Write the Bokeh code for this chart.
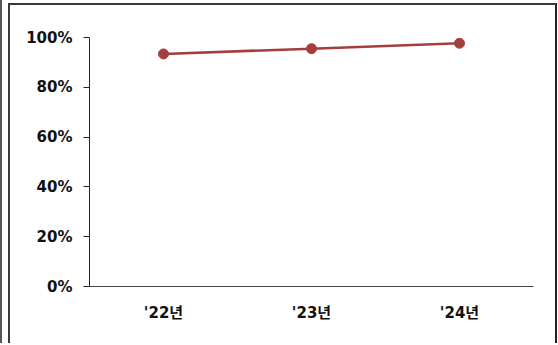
from bokeh.plotting import figure
from bokeh.models import FactorRange, Range1d, FixedTicker, CustomJSTickFormatter
from bokeh.layouts import column
from bokeh.embed import file_html
from bokeh.resources import INLINE

# Data
years = ["'22년", "'23년", "'24년"]
rates = [93.4, 95.5, 97.7]          # percent
y_ticks = [0, 20, 40, 60, 80, 100]

RED = "#a33f3e"
FONT = "DejaVu Sans, Noto Sans CJK KR"

p = figure(
    width=549, height=340,
    x_range=FactorRange(*years, range_padding=0),
    y_range=Range1d(0, 100),
    output_backend="svg", toolbar_location=None,
    min_border_left=79, min_border_right=26,
    min_border_top=32, min_border_bottom=59,
)

p.line(x=years, y=rates, line_color=RED, line_width=2.6)
p.scatter(x=years, y=rates, size=10, fill_color=RED, line_color=RED)

p.grid.visible = False
p.outline_line_color = None
p.background_fill_color = "white"
p.border_fill_color = "white"

# y axis
ya = p.yaxis[0]
ya.ticker = FixedTicker(ticks=y_ticks, minor_ticks=[])
ya.formatter = CustomJSTickFormatter(code="return tick + '%';")
ya.axis_line_color = "#222222"
ya.axis_line_width = 1
ya.major_tick_out = 6
ya.major_tick_in = 0
ya.minor_tick_line_color = None
ya.major_tick_line_color = "#222222"
ya.major_label_text_font = FONT
ya.major_label_text_font_style = "bold"
ya.major_label_text_font_size = "15px"
ya.major_label_text_color = "#111111"
ya.major_label_standoff = 11

# x axis
xa = p.xaxis[0]
xa.axis_line_color = "#444444"
xa.axis_line_width = 1
xa.major_tick_line_color = None
xa.minor_tick_line_color = None
xa.major_label_text_font = FONT
xa.major_label_text_font_style = "bold"
xa.major_label_text_font_size = "15px"
xa.major_label_text_color = "#111111"
xa.major_label_standoff = 11

p.styles = {
    "border-top": "2px solid #3a3a3a",
    "border-left": "2px solid #3a3a3a",
    "border-right": "2px solid #222222",
    "margin-left": "6px",
    "margin-top": "3px",
}

layout = column(p, styles={"border-left": "2px solid #555555"})

open("out.html", "w").write(file_html(layout, INLINE))
